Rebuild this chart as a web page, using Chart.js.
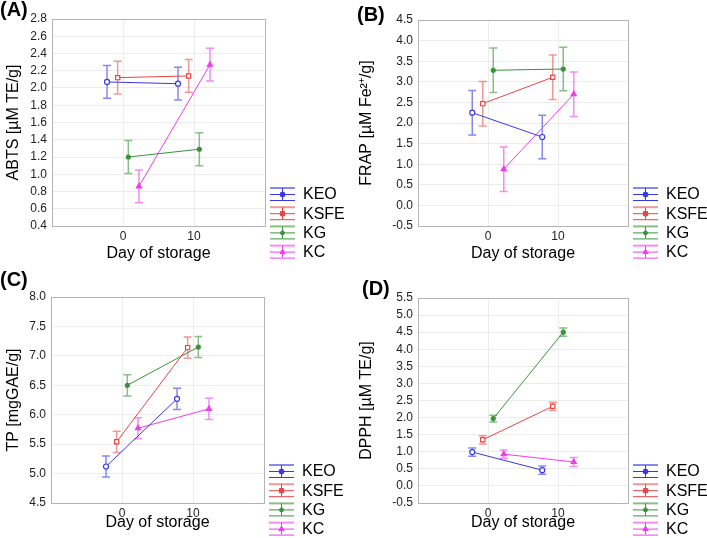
<!DOCTYPE html>
<html>
<head>
<meta charset="utf-8">
<script src="https://cdn.jsdelivr.net/npm/chart.js@4.4.1/dist/chart.umd.min.js"></script>
<style>
  body { margin: 0; background: #fff; }
  #wrap { position: relative; width: 707px; height: 538px; overflow: hidden; }
  canvas { position: absolute; }
  .lbl { position: absolute; font: bold 20px "Liberation Sans", Arial, sans-serif; color: #000; }
</style>
</head>
<body>
<div id="wrap">
  <canvas id="chartA" width="353" height="269" style="left:0;top:0"></canvas>
  <canvas id="chartB" width="354" height="269" style="left:353px;top:0"></canvas>
  <canvas id="chartC" width="353" height="269" style="left:0;top:269px"></canvas>
  <canvas id="chartD" width="354" height="269" style="left:353px;top:269px"></canvas>
  <div class="lbl" style="left:0;top:-2px">(A)</div>
  <div class="lbl" style="left:357px;top:3px">(B)</div>
  <div class="lbl" style="left:0;top:268px">(C)</div>
  <div class="lbl" style="left:362px;top:277px">(D)</div>
</div>
<script>
// series and days
const seriesNames = ['KEO', 'KSFE', 'KG', 'KC'];
const days = [0, 10];
const dayTicks = [0, 10];

// (A) ABTS
const abtsMeans = [[2.07, 2.05], [2.12, 2.14], [1.20, 1.29], [0.86, 2.27]];
const abtsErr   = [[0.19, 0.19], [0.19, 0.19], [0.19, 0.19], [0.19, 0.19]];
// (B) FRAP
const frapMeans = [[2.25, 1.66], [2.47, 3.11], [3.28, 3.31], [0.88, 2.70]];
const frapErr   = [[0.54, 0.53], [0.54, 0.54], [0.54, 0.53], [0.54, 0.54]];
// (C) TP
const tpMeans = [[5.12, 6.27], [5.54, 7.14], [6.50, 7.15], [5.77, 6.10]];
const tpErr   = [[0.18, 0.18], [0.18, 0.18], [0.18, 0.18], [0.18, 0.18]];
// (D) DPPH
const dpphMeans = [[0.99, 0.46], [1.35, 2.33], [1.97, 4.50], [0.93, 0.70]];
const dpphErr   = [[0.12, 0.12], [0.12, 0.12], [0.10, 0.12], [0.12, 0.13]];

// styling
const FONT = '"Liberation Sans", Arial, sans-serif';
const colors = ['#3838e8', '#e84444', '#3a933a', '#f03cf0'];
const errColors = ['rgba(56,56,232,0.6)', 'rgba(232,68,68,0.55)', 'rgba(58,147,58,0.6)', 'rgba(240,60,240,0.6)'];
const dodge = [-2.25, -0.75, 0.75, 2.25];
const pointStyles = ['circle', 'rect', 'circle', 'triangle'];
const pointFill = ['#fff', '#fff', null, null];
const pointRadius = [2.5, 3, 2, 3];

const errorBars = {
  id: 'errorBars',
  beforeDatasetsDraw(chart, args, opts) {
    const ctx = chart.ctx, y = chart.scales.y;
    ctx.save();
    chart.data.datasets.forEach((ds, i) => {
      const meta = chart.getDatasetMeta(i);
      meta.data.forEach((pt, j) => {
        const m = ds.data[j].y, e = opts.err[i][j];
        const top = y.getPixelForValue(m + e), bot = y.getPixelForValue(m - e);
        ctx.strokeStyle = errColors[i];
        ctx.lineWidth = 1.5;
        ctx.beginPath();
        ctx.moveTo(pt.x, top); ctx.lineTo(pt.x, bot);
        ctx.moveTo(pt.x - 4, top); ctx.lineTo(pt.x + 4, top);
        ctx.moveTo(pt.x - 4, bot); ctx.lineTo(pt.x + 4, bot);
        ctx.stroke();
      });
    });
    ctx.restore();
  }
};

const frameAndLegend = {
  id: 'frameAndLegend',
  afterDraw(chart) {
    const ctx = chart.ctx, a = chart.chartArea;
    ctx.save();
    ctx.strokeStyle = '#b4b4b4';
    ctx.lineWidth = 1;
    ctx.strokeRect(a.left + 0.5, a.top + 0.5, a.right - a.left, a.bottom - a.top);
    // legend
    const x0 = a.right + 5, x1 = a.right + 30, xc = (x0 + x1) / 2;
    seriesNames.forEach((name, i) => {
      const yc = a.bottom - 32 + i * 19.2;
      ctx.strokeStyle = errColors[i];
      ctx.lineWidth = 2;
      ctx.beginPath(); ctx.moveTo(x0, yc - 6); ctx.lineTo(x1, yc - 6); ctx.stroke();
      ctx.strokeStyle = colors[i];
      ctx.lineWidth = 1;
      ctx.beginPath();
      ctx.moveTo(x0, yc + 0.5); ctx.lineTo(x1, yc + 0.5);
      ctx.moveTo(x0, yc + 6.5); ctx.lineTo(x1, yc + 6.5);
      ctx.moveTo(xc, yc - 6); ctx.lineTo(xc, yc + 6);
      ctx.stroke();
      ctx.strokeStyle = colors[i];
      ctx.fillStyle = colors[i];
      Chart.helpers.drawPoint(ctx, {
        pointStyle: pointStyles[i], radius: pointRadius[i], borderWidth: 1
      }, xc, yc + 0.5);
      ctx.fillStyle = '#000';
      ctx.font = '16px ' + FONT;
      ctx.textBaseline = 'middle';
      ctx.textAlign = 'left';
      ctx.fillText(name, x1 + 8, yc + 1);
    });
    ctx.restore();
  }
};

function makeChart(id, means, err, yMin, yMax, step, yTitle, box) {
  const datasets = seriesNames.map((name, i) => ({
    label: name,
    data: days.map((d, j) => ({ x: d + dodge[i], y: means[i][j] })),
    borderColor: colors[i],
    backgroundColor: pointFill[i] || colors[i],
    pointBackgroundColor: pointFill[i] || colors[i],
    pointBorderColor: colors[i],
    pointStyle: pointStyles[i],
    pointRadius: pointRadius[i],
    pointBorderWidth: 1.2,
    borderWidth: 1,
    showLine: true,
    fill: false
  }));
  return new Chart(document.getElementById(id), {
    type: 'line',
    data: { datasets },
    options: {
      responsive: false,
      animation: false,
      layout: { padding: { left: 0, top: box.top, right: box.right, bottom: 0 } },
      plugins: {
        legend: { display: false },
        tooltip: { enabled: false },
        errorBars: { err }
      },
      scales: {
        x: {
          type: 'linear', min: -10, max: 20,
          afterBuildTicks: s => { s.ticks = dayTicks.map(v => ({ value: v })); },
          afterFit: s => { s.height = box.xh; },
          grid: { color: '#ececec', drawTicks: false },
          border: { display: false },
          ticks: { color: '#222', font: { family: FONT, size: 12 }, padding: 3 },
          title: { display: true, text: 'Day of storage', color: '#000',
                   font: { family: FONT, size: 16 }, padding: { top: 2, bottom: 6 } }
        },
        y: {
          min: yMin, max: yMax,
          afterFit: s => { s.width = box.yw; },
          grid: { color: '#ececec', drawTicks: false },
          border: { display: false },
          ticks: { stepSize: step, autoSkip: false, color: '#222', font: { family: FONT, size: 12 },
                   padding: 5, callback: v => v.toFixed(1) },
          title: { display: true, text: yTitle, color: '#000',
                   font: { family: FONT, size: 16 }, padding: { top: 4, bottom: 2 } }
        }
      }
    },
    plugins: [errorBars, frameAndLegend]
  });
}

makeChart('chartA', abtsMeans, abtsErr, 0.4, 2.8, 0.2, 'ABTS [µM TE/g]', { top: 19, right: 88, xh: 43, yw: 52 });
makeChart('chartB', frapMeans, frapErr, -0.5, 4.5, 0.5, 'FRAP [µM Fe²⁺/g]', { top: 20, right: 79, xh: 43, yw: 65 });
makeChart('chartC', tpMeans, tpErr, 4.5, 8.0, 0.5, 'TP [mgGAE/g]', { top: 28, right: 89, xh: 35, yw: 51 });
makeChart('chartD', dpphMeans, dpphErr, -0.5, 5.5, 0.5, 'DPPH [µM TE/g]', { top: 29, right: 79, xh: 35, yw: 65 });
</script>
</body>
</html>
